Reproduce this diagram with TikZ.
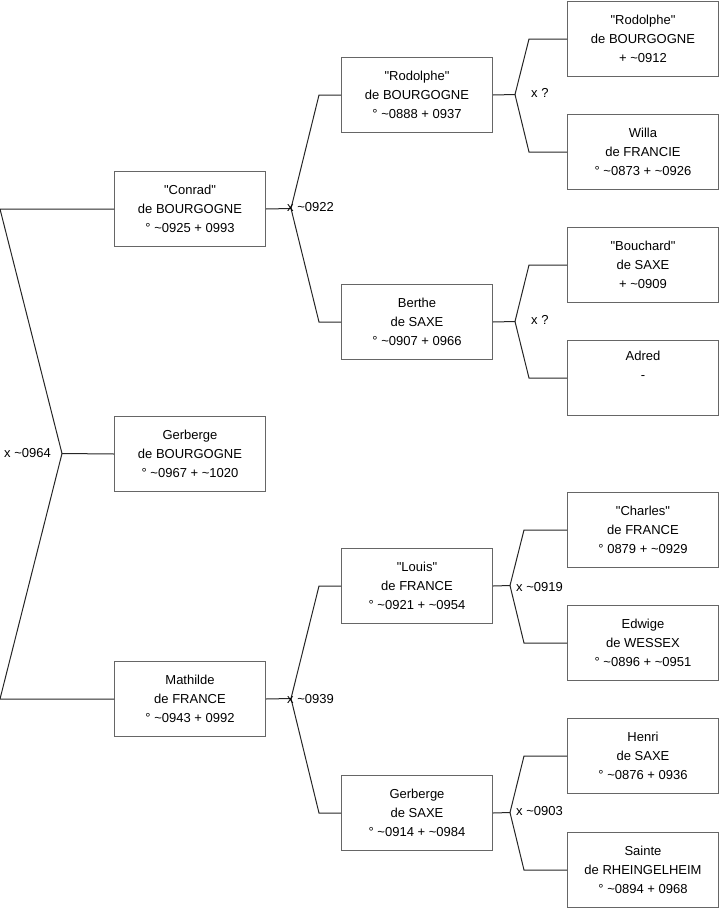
\documentclass[tikz,border=0pt]{standalone}
\usepackage{fontspec}
\setmainfont{Liberation Sans}
\usepackage{tikz}
\usetikzlibrary{positioning,calc}
\newcommand\abt{\textasciitilde}
\newcommand\qt[1]{\textquotedbl#1\textquotedbl}
\tikzset{
  person/.style={
    rectangle, draw=black!60, line width=1pt, fill=white,
    minimum width=151pt, minimum height=75pt,
    anchor=north west, align=center, inner sep=2pt,
    font=\fontsize{13}{19}\selectfont
  },
  link/.style={draw=black!85, line width=1pt},
  marriage/.style={font=\fontsize{13}{16}\selectfont, inner sep=0pt}
}

\begin{document}
\begin{tikzpicture}[x=1pt, y=-1pt]
  \useasboundingbox (0,0) rectangle (719,908);

  % ==== GENERATION 0 ====
  \node[person] (gerberge) at (114,416) {Gerberge\\de BOURGOGNE\\° \abt0967 + \abt1020};

  % ==== GENERATION 1 ====
  \node[person] (conrad)   at (114,171) {\qt{Conrad}\\de BOURGOGNE\\° \abt0925 + 0993};
  \node[person] (mathilde) at (114,661) {Mathilde\\de FRANCE\\° \abt0943 + 0992};

  % ==== GENERATION 2 ====
  \node[person] (rodolphe)  at (341,57)  {\qt{Rodolphe}\\de BOURGOGNE\\° \abt0888 + 0937};
  \node[person] (berthe)    at (341,284) {Berthe\\de SAXE\\° \abt0907 + 0966};
  \node[person] (louis)     at (341,548) {\qt{Louis}\\de FRANCE\\° \abt0921 + \abt0954};
  \node[person] (gerbergeS) at (341,775) {Gerberge\\de SAXE\\° \abt0914 + \abt0984};

  % ==== GENERATION 3 ====
  \node[person] (rodolpheP) at (567,1)   {\qt{Rodolphe}\\de BOURGOGNE\\+ \abt0912};
  \node[person] (willa)     at (567,114) {Willa\\de FRANCIE\\° \abt0873 + \abt0926};
  \node[person] (bouchard)  at (567,227) {\qt{Bouchard}\\de SAXE\\+ \abt0909};
  \node[person] (adred)     at (567,340) {Adred\\-\\\strut};
  \node[person] (charles)   at (567,492) {\qt{Charles}\\de FRANCE\\° 0879 + \abt0929};
  \node[person] (edwige)    at (567,605) {Edwige\\de WESSEX\\° \abt0896 + \abt0951};
  \node[person] (henri)     at (567,718) {Henri\\de SAXE\\° \abt0876 + 0936};
  \node[person] (sainte)    at (567,832) {Sainte\\de RHEINGELHEIM\\° \abt0894 + 0968};

  % ==== marriage points ====
  \coordinate (m0) at (62,453.5);
  \coordinate (m1) at (291,208.5);
  \coordinate (m2) at (291,698.5);
  \coordinate (m3) at (515,94.5);
  \coordinate (m4) at (515,321.5);
  \coordinate (m5) at (510,585.5);
  \coordinate (m6) at (510,812.5);

  % ==== connectors ====
  \draw[link] (conrad.west) -- ++(-114,0) -- (m0) -- (gerberge.west);
  \draw[link] (mathilde.west) -- ++(-114,0) -- (m0);

  \draw[link] (conrad.east) -- (m1) -- ([xshift=-22pt]rodolphe.west) -- (rodolphe.west);
  \draw[link] (m1) -- ([xshift=-22pt]berthe.west) -- (berthe.west);
  \draw[link] (mathilde.east) -- (m2) -- ([xshift=-22pt]louis.west) -- (louis.west);
  \draw[link] (m2) -- ([xshift=-22pt]gerbergeS.west) -- (gerbergeS.west);

  \draw[link] (rodolphe.east) -- (m3) -- ([xshift=-38pt]rodolpheP.west) -- (rodolpheP.west);
  \draw[link] (m3) -- ([xshift=-38pt]willa.west) -- (willa.west);
  \draw[link] (berthe.east) -- (m4) -- ([xshift=-38pt]bouchard.west) -- (bouchard.west);
  \draw[link] (m4) -- ([xshift=-38pt]adred.west) -- (adred.west);
  \draw[link] (louis.east) -- (m5) -- ([xshift=-43pt]charles.west) -- (charles.west);
  \draw[link] (m5) -- ([xshift=-43pt]edwige.west) -- (edwige.west);
  \draw[link] (gerbergeS.east) -- (m6) -- ([xshift=-43pt]henri.west) -- (henri.west);
  \draw[link] (m6) -- ([xshift=-43pt]sainte.west) -- (sainte.west);

  % ==== marriage labels ====
  \node[marriage, anchor=east] (l0) at (51,453) {x \abt0964};
  \node[marriage, anchor=west] (l1) at (287,207) {x \abt0922};
  \node[marriage, anchor=west] (l2) at (287,699) {x \abt0939};
  \node[marriage, anchor=west] (l3) at (531,93)  {x ?};
  \node[marriage, anchor=west] (l4) at (531,320) {x ?};
  \node[marriage, anchor=west] (l5) at (516,587) {x \abt0919};
  \node[marriage, anchor=west] (l6) at (516,811) {x \abt0903};
\end{tikzpicture}
\end{document}
